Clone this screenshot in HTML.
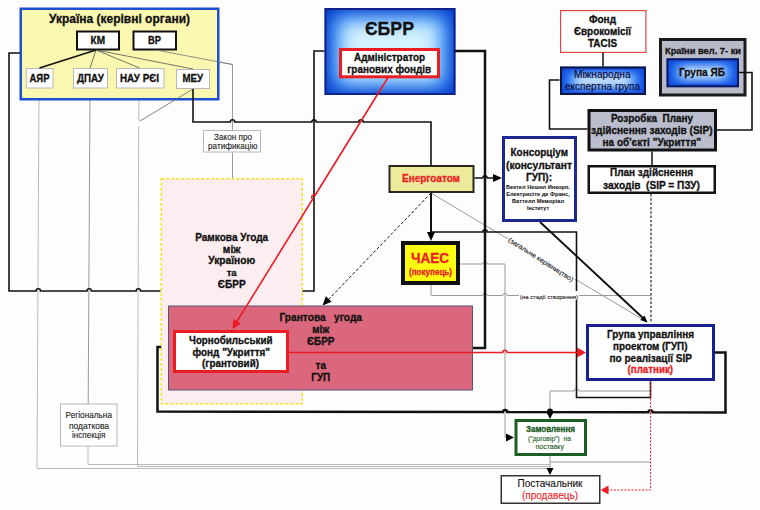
<!DOCTYPE html>
<html><head><meta charset="utf-8"><style>
html,body{margin:0;padding:0;background:#fdfdfd;}
svg{display:block;font-family:"Liberation Sans",sans-serif;}
</style></head><body>
<svg width="760" height="510" viewBox="0 0 760 510">
<rect x="0" y="0" width="760" height="510" fill="#fdfdfd"/>
<polyline points="39,88 37,468.5 550,468.5" fill="none" stroke="#a8a8a8" stroke-width="0.8" />
<polyline points="90,88 88.2,404" fill="none" stroke="#9a9a9a" stroke-width="1" />
<polyline points="88,446 88,464.5 550,464.5" fill="none" stroke="#a8a8a8" stroke-width="0.8" />
<polyline points="139,88 138.75,121" fill="none" stroke="#a8a8a8" stroke-width="0.8" />
<polyline points="138.7,126 137.5,466.5 550,466.5" fill="none" stroke="#a8a8a8" stroke-width="0.8" />
<polyline points="156,50 232.5,64.5 232.5,130" fill="none" stroke="#9a9a9a" stroke-width="1" />
<polyline points="232.5,152.5 232.5,178" fill="none" stroke="#9a9a9a" stroke-width="1" />
<path d="M460,264 L482.80,264.00 A2.2,2.2 0 0 1 487.20,264.00 L505,264 L505,437.5 L508,437.5" fill="none" stroke="#9a9a9a" stroke-width="1" />
<path d="M431,285 L431,295.5 L482.80,295.50 A2.2,2.2 0 0 1 487.20,295.50 L502.80,295.50 A2.2,2.2 0 0 1 507.20,295.50 L650.5,295.5" fill="none" stroke="#9a9a9a" stroke-width="1" />
<polyline points="431,193 647,322" fill="none" stroke="#9a9a9a" stroke-width="1" />
<path d="M550,411 L550,391 L574.30,391.00 A2.2,2.2 0 0 1 578.70,391.00 L650,391" fill="none" stroke="#9a9a9a" stroke-width="1" />
<polyline points="550,456 550,468" fill="none" stroke="#9a9a9a" stroke-width="1" />
<polyline points="550,462 650,462" fill="none" stroke="#9a9a9a" stroke-width="1" />
<polyline points="550,468 550,470" fill="none" stroke="#9a9a9a" stroke-width="1" />
<rect x="20.75" y="8.75" width="197.50" height="90.50" fill="#faf7b0" stroke="#1d4fd0" stroke-width="2.5" />
<rect x="77.00" y="31.50" width="42.00" height="18.00" fill="#fff" stroke="#111" stroke-width="2" />
<rect x="133.50" y="31.50" width="42.50" height="18.00" fill="#fff" stroke="#111" stroke-width="2" />
<rect x="26.25" y="68.50" width="26.75" height="19.50" fill="#fff" stroke="#b8b8b8" stroke-width="1" />
<rect x="73.50" y="68.50" width="34.00" height="19.50" fill="#fff" stroke="#b8b8b8" stroke-width="1" />
<rect x="116.50" y="68.50" width="47.50" height="19.50" fill="#fff" stroke="#b8b8b8" stroke-width="1" />
<rect x="176.50" y="69.50" width="33.00" height="19.00" fill="#fff" stroke="#b8b8b8" stroke-width="1" />
<polyline points="96,50 39.5,68" fill="none" stroke="#111" stroke-width="1.6" />
<polyline points="96,50 90,68" fill="none" stroke="#555" stroke-width="0.8" />
<polyline points="96,50 139.5,68" fill="none" stroke="#555" stroke-width="0.8" />
<polyline points="96,50 193,69" fill="none" stroke="#555" stroke-width="0.8" />
<polyline points="156,50 232.5,64.5" fill="none" stroke="#777" stroke-width="0.8" />
<polyline points="193,89 140,121" fill="none" stroke="#666" stroke-width="0.8" />
<defs>
<radialGradient id="gE" cx="50%" cy="45%" r="72%"><stop offset="0" stop-color="#ffffff"/><stop offset="0.3" stop-color="#b8e4ff"/><stop offset="0.62" stop-color="#2a82f4"/><stop offset="1" stop-color="#0a38c0"/></radialGradient>
<radialGradient id="gM" cx="50%" cy="50%" r="72%"><stop offset="0" stop-color="#eefbff"/><stop offset="0.3" stop-color="#8ccfff"/><stop offset="0.7" stop-color="#1868f4"/><stop offset="1" stop-color="#0838d0"/></radialGradient>
</defs>
<defs><clipPath id="c1"><rect x="324.5" y="8" width="131.0" height="87"/></clipPath><filter id="f1" x="-50%" y="-50%" width="200%" height="200%"><feGaussianBlur stdDeviation="9"/></filter></defs>
<g clip-path="url(#c1)"><rect x="324.5" y="8" width="131.0" height="87" fill="#0636c4"/>
<rect x="329.5" y="13" width="121.0" height="77" fill="#2a86f6" filter="url(#f1)"/>
<rect x="340.5" y="21" width="99.0" height="61" fill="#d4f2ff" filter="url(#f1)"/></g>
<rect x="325.50" y="9.00" width="129.00" height="85.00" fill="none" stroke="#10238a" stroke-width="2" />
<rect x="340.50" y="49.50" width="98.00" height="27.30" fill="#fff" stroke="#ea1c24" stroke-width="3" />
<rect x="560.60" y="10.60" width="85.30" height="41.80" fill="#fff" stroke="#e04848" stroke-width="1.2" />
<polyline points="603,52.5 603,66.5" fill="none" stroke="#111" stroke-width="1.5" />
<defs><clipPath id="c2"><rect x="560" y="66.5" width="86" height="28.5"/></clipPath><filter id="f2" x="-50%" y="-50%" width="200%" height="200%"><feGaussianBlur stdDeviation="5"/></filter></defs>
<g clip-path="url(#c2)"><rect x="560" y="66.5" width="86" height="28.5" fill="#0a40d8"/>
<rect x="564" y="70.5" width="78" height="20.5" fill="#2a7af4" filter="url(#f2)"/>
<rect x="574" y="75.5" width="58" height="10.5" fill="#e8f8ff" filter="url(#f2)"/></g>
<rect x="561.00" y="67.50" width="84.00" height="26.50" fill="none" stroke="#0d1440" stroke-width="2" />
<rect x="660.50" y="39.50" width="84.50" height="55.50" fill="#b9bbc8" stroke="#1a1a1a" stroke-width="3" />
<defs><clipPath id="c3"><rect x="666.5" y="58.3" width="72.5" height="29.0"/></clipPath><filter id="f3" x="-50%" y="-50%" width="200%" height="200%"><feGaussianBlur stdDeviation="5"/></filter></defs>
<g clip-path="url(#c3)"><rect x="666.5" y="58.3" width="72.5" height="29.0" fill="#0a40d8"/>
<rect x="670.5" y="62.3" width="64.5" height="21.0" fill="#2a7af4" filter="url(#f3)"/>
<rect x="680.5" y="67.3" width="44.5" height="11.0" fill="#e8f8ff" filter="url(#f3)"/></g>
<rect x="667.50" y="59.30" width="70.50" height="27.00" fill="none" stroke="#0d1860" stroke-width="2" />
<rect x="589.00" y="110.50" width="126.50" height="39.50" fill="#babdcb" stroke="#111" stroke-width="3" />
<rect x="588.75" y="166.25" width="126.00" height="26.50" fill="#fff" stroke="#111" stroke-width="2.5" />
<rect x="203.50" y="130.50" width="57.00" height="21.50" fill="#fff" stroke="#b8b8b8" stroke-width="1" />
<path d="M20,53 L9,53 L9,291 L36.10,291.00 A2.2,2.2 0 0 1 40.50,291.00 L87.00,291.00 A2.2,2.2 0 0 1 91.40,291.00 L136.20,291.00 A2.2,2.2 0 0 1 140.60,291.00 L160.5,291" fill="none" stroke="#111" stroke-width="1.6" />
<path d="M193,89 L193,122 L230.30,122.00 A2.2,2.2 0 0 1 234.70,122.00 L311.80,122.00 A2.2,2.2 0 0 1 316.20,122.00 L358.80,122.00 A2.2,2.2 0 0 1 363.20,122.00 L431,122 L431,165" fill="none" stroke="#111" stroke-width="1.6" />
<polyline points="324.5,51 314,51 314,291 302,291" fill="none" stroke="#111" stroke-width="1.6" />
<polyline points="454.5,51 485,51 485,348 473,348" fill="none" stroke="#111" stroke-width="2.5" />
<polyline points="559.5,80 549.5,80 549.5,129 587.5,129" fill="none" stroke="#111" stroke-width="1.6" />
<polyline points="738,72.5 752,72.5 752,130 716,130" fill="none" stroke="#111" stroke-width="1.6" />
<polyline points="652,151.5 652,165" fill="none" stroke="#111" stroke-width="1.5" />
<path d="M474.5,178 L482.80,178.00 A2.2,2.2 0 0 1 487.20,178.00 L494,178" fill="none" stroke="#111" stroke-width="1.4" />
<polygon points="502.00,178.00 493.00,182.00 493.00,174.00" fill="#000"/>
<polyline points="431,193 431,232" fill="none" stroke="#111" stroke-width="2" />
<polygon points="431.00,241.00 427.00,232.00 435.00,232.00" fill="#000"/>
<path d="M431,232 L482.80,232.00 A2.2,2.2 0 0 1 487.20,232.00 L576.5,232 L576.5,397.5 L650.5,397.5 L650.5,381" fill="none" stroke="#111" stroke-width="1.6" />
<polyline points="540,222 643,318" fill="none" stroke="#111" stroke-width="1.9" />
<polygon points="647.50,322.50 640.21,320.04 644.59,315.38" fill="#000"/>
<polyline points="431,193 327,301" fill="none" stroke="#111" stroke-width="1" stroke-dasharray="3,2"/>
<polygon points="322.50,305.50 325.87,296.25 331.63,301.80" fill="#000"/>
<polyline points="651,194 651,323" fill="none" stroke="#111" stroke-width="1.1" stroke-dasharray="2.5,1.8"/>
<path d="M715,352.5 L725.5,352.5 L725.5,412.5 L652.70,412.37 A2.2,2.2 0 0 0 648.30,412.36 L507.20,412.12 A2.2,2.2 0 0 0 502.80,412.11 L157.5,411.5 L157.5,347 L173,347" fill="none" stroke="#111" stroke-width="2.5" />
<circle cx="550" cy="411.5" r="3" fill="#111"/>
<polygon points="550.00,419.00 546.50,412.00 553.50,412.00" fill="#000"/>
<rect x="389.50" y="166.00" width="84.00" height="26.00" fill="#eeea9c" stroke="#2a2a20" stroke-width="2" />
<rect x="503.50" y="137.50" width="72.00" height="83.00" fill="#fff" stroke="#1a2890" stroke-width="3" />
<rect x="403.00" y="243.00" width="55.00" height="40.00" fill="#fffc14" stroke="#111" stroke-width="4" />
<rect x="161.25" y="178.75" width="141.00" height="225.00" fill="#fcedf0" stroke="#f2e21a" stroke-width="1.5" stroke-dasharray="3,2"/>
<rect x="168.50" y="306.00" width="304.00" height="84.00" fill="#da677b" stroke="#55557a" stroke-width="1" />
<rect x="174.50" y="331.50" width="113.00" height="40.00" fill="#fff" stroke="#ea1c24" stroke-width="3" />
<rect x="587.50" y="325.50" width="126.00" height="54.00" fill="#fff" stroke="#1a2090" stroke-width="3" />
<rect x="60.50" y="404.00" width="56.50" height="42.00" fill="#fff" stroke="#b8b8b8" stroke-width="1" />
<rect x="516.00" y="420.50" width="69.50" height="34.00" fill="#fff" stroke="#1d5e22" stroke-width="3" />
<rect x="501.25" y="475.75" width="98.50" height="27.50" fill="#fff" stroke="#333" stroke-width="1.5" />
<polygon points="514.00,437.50 506.00,441.50 506.00,433.50" fill="#000"/>
<polygon points="550.00,475.00 546.50,468.00 553.50,468.00" fill="#000"/>
<path d="M388,77.5 L315.08,195.28 A2.2,2.2 0 0 0 312.76,199.02 L236,323" fill="none" stroke="#ec1c24" stroke-width="1.6" />
<polygon points="232.50,329.00 233.41,318.98 241.06,323.71" fill="#ec1c24"/>
<path d="M288,352.5 L502.80,352.50 A2.2,2.2 0 0 1 507.20,352.50 L578,352.5" fill="none" stroke="#ec1c24" stroke-width="1.6" />
<polygon points="586.00,352.50 577.00,357.50 577.00,347.50" fill="#ec1c24"/>
<polyline points="650.5,381 650.5,490 608,490" fill="none" stroke="#ec1c24" stroke-width="1" stroke-dasharray="2,1.5"/>
<polygon points="600.50,490.00 608.50,485.50 608.50,494.50" fill="#ec1c24"/>
<text x="119.5" y="22.5" font-size="12.34" font-weight="bold" fill="#111" stroke="#111" stroke-width="0.3" text-anchor="middle" xml:space="preserve" textLength="141" lengthAdjust="spacingAndGlyphs" >Україна (керівні органи)</text>
<text x="97.75" y="43.75" font-size="10.3" font-weight="bold" fill="#111" stroke="#111" stroke-width="0.3" text-anchor="middle" xml:space="preserve" textLength="14.5" lengthAdjust="spacingAndGlyphs" >КМ</text>
<text x="154.5" y="43.75" font-size="10.3" font-weight="bold" fill="#111" stroke="#111" stroke-width="0.3" text-anchor="middle" xml:space="preserve" textLength="13" lengthAdjust="spacingAndGlyphs" >ВР</text>
<text x="39.5" y="81.75" font-size="10.2" font-weight="bold" fill="#111" stroke="#111" stroke-width="0.3" text-anchor="middle" xml:space="preserve" textLength="20" lengthAdjust="spacingAndGlyphs" >АЯР</text>
<text x="90.5" y="81.75" font-size="10.2" font-weight="bold" fill="#111" stroke="#111" stroke-width="0.3" text-anchor="middle" xml:space="preserve" textLength="27" lengthAdjust="spacingAndGlyphs" >ДПАУ</text>
<text x="139.5" y="81.75" font-size="10.2" font-weight="bold" fill="#111" stroke="#111" stroke-width="0.3" text-anchor="middle" xml:space="preserve" textLength="39" lengthAdjust="spacingAndGlyphs" >НАУ РЄІ</text>
<text x="192.75" y="82" font-size="10.2" font-weight="bold" fill="#111" stroke="#111" stroke-width="0.3" text-anchor="middle" xml:space="preserve" textLength="20.5" lengthAdjust="spacingAndGlyphs" >МЕУ</text>
<text x="389.5" y="35.3" font-size="18.26" font-weight="bold" fill="#111" stroke="#111" stroke-width="0.3" text-anchor="middle" xml:space="preserve" textLength="49" lengthAdjust="spacingAndGlyphs" >ЄБРР</text>
<text x="389.5" y="60.5" font-size="10.2" font-weight="bold" fill="#111" stroke="#111" stroke-width="0.3" text-anchor="middle" xml:space="preserve" textLength="71" lengthAdjust="spacingAndGlyphs" >Адміністратор</text>
<text x="389.2" y="72.6" font-size="10.22" font-weight="bold" fill="#111" stroke="#111" stroke-width="0.3" text-anchor="middle" xml:space="preserve" textLength="84" lengthAdjust="spacingAndGlyphs" >гранових фондів</text>
<text x="602.5" y="22.5" font-size="10.29" font-weight="bold" fill="#111" stroke="#111" stroke-width="0.3" text-anchor="middle" xml:space="preserve" textLength="27" lengthAdjust="spacingAndGlyphs" >Фонд</text>
<text x="602.5" y="34.75" font-size="10.18" font-weight="bold" fill="#111" stroke="#111" stroke-width="0.3" text-anchor="middle" xml:space="preserve" textLength="57" lengthAdjust="spacingAndGlyphs" >Єврокомісії</text>
<text x="602.5" y="46.75" font-size="10.21" font-weight="bold" fill="#111" stroke="#111" stroke-width="0.3" text-anchor="middle" xml:space="preserve" textLength="29" lengthAdjust="spacingAndGlyphs" >TACIS</text>
<text x="602.25" y="77.5" font-size="10.36" font-weight="normal" fill="#0a0a30" stroke="#0a0a30" stroke-width="0.12" text-anchor="middle" xml:space="preserve" textLength="56.5" lengthAdjust="spacingAndGlyphs" >Міжнародна</text>
<text x="602.5" y="89.5" font-size="10.32" font-weight="normal" fill="#0a0a30" stroke="#0a0a30" stroke-width="0.12" text-anchor="middle" xml:space="preserve" textLength="75" lengthAdjust="spacingAndGlyphs" >експертна група</text>
<text x="703" y="54" font-size="9.56" font-weight="bold" fill="#111" stroke="#111" stroke-width="0.3" text-anchor="middle" xml:space="preserve" textLength="76" lengthAdjust="spacingAndGlyphs" >Країни вел. 7- ки</text>
<text x="702" y="76.25" font-size="10.39" font-weight="bold" fill="#111" stroke="#111" stroke-width="0.3" text-anchor="middle" xml:space="preserve" textLength="46" lengthAdjust="spacingAndGlyphs" >Група ЯБ</text>
<text x="652" y="122" font-size="10.23" font-weight="bold" fill="#111" stroke="#111" stroke-width="0.3" text-anchor="middle" xml:space="preserve" textLength="82" lengthAdjust="spacingAndGlyphs" >Розробка  Плану</text>
<text x="651.75" y="133.75" font-size="10.37" font-weight="bold" fill="#111" stroke="#111" stroke-width="0.3" text-anchor="middle" xml:space="preserve" textLength="121.5" lengthAdjust="spacingAndGlyphs" >здійснення заходів (SIP)</text>
<text x="651.75" y="145.5" font-size="10.33" font-weight="bold" fill="#111" stroke="#111" stroke-width="0.3" text-anchor="middle" xml:space="preserve" textLength="98.5" lengthAdjust="spacingAndGlyphs" >на об'єкті "Укриття"</text>
<text x="651.5" y="176.25" font-size="10.27" font-weight="bold" fill="#111" stroke="#111" stroke-width="0.3" text-anchor="middle" xml:space="preserve" textLength="83" lengthAdjust="spacingAndGlyphs" >План здійснення</text>
<text x="651.5" y="188.75" font-size="10.43" font-weight="bold" fill="#111" stroke="#111" stroke-width="0.3" text-anchor="middle" xml:space="preserve" textLength="97" lengthAdjust="spacingAndGlyphs" >заходів  (SIP = ПЗУ)</text>
<text x="233" y="139.7" font-size="9.3" font-weight="normal" fill="#222" stroke="#222" stroke-width="0.12" text-anchor="middle" xml:space="preserve" textLength="38" lengthAdjust="spacingAndGlyphs" >Закон про</text>
<text x="232.75" y="149" font-size="9.3" font-weight="normal" fill="#222" stroke="#222" stroke-width="0.12" text-anchor="middle" xml:space="preserve" textLength="49.5" lengthAdjust="spacingAndGlyphs" >ратификацію</text>
<text x="431" y="182" font-size="10.26" font-weight="bold" fill="#ec1c24" stroke="#ec1c24" stroke-width="0.3" text-anchor="middle" xml:space="preserve" textLength="58" lengthAdjust="spacingAndGlyphs" >Енергоатом</text>
<text x="539.25" y="156.25" font-size="10.25" font-weight="bold" fill="#111" stroke="#111" stroke-width="0.3" text-anchor="middle" xml:space="preserve" textLength="57.5" lengthAdjust="spacingAndGlyphs" >Консорціум</text>
<text x="539" y="168.75" font-size="10.56" font-weight="bold" fill="#111" stroke="#111" stroke-width="0.3" text-anchor="middle" xml:space="preserve" textLength="66" lengthAdjust="spacingAndGlyphs" >(консультант</text>
<text x="539" y="180.5" font-size="10.4" font-weight="bold" fill="#111" stroke="#111" stroke-width="0.3" text-anchor="middle" xml:space="preserve" textLength="26" lengthAdjust="spacingAndGlyphs" >ГУП):</text>
<text x="538" y="188.75" font-size="5.85" font-weight="bold" fill="#111" stroke="#111" stroke-width="0.05" text-anchor="middle" xml:space="preserve" textLength="64" lengthAdjust="spacingAndGlyphs" >Бектел Нешнл Инкорп.</text>
<text x="538" y="195.5" font-size="5.87" font-weight="bold" fill="#111" stroke="#111" stroke-width="0.05" text-anchor="middle" xml:space="preserve" textLength="63.5" lengthAdjust="spacingAndGlyphs" >Електрисіте де Франс,</text>
<text x="538" y="202.5" font-size="5.85" font-weight="bold" fill="#111" stroke="#111" stroke-width="0.05" text-anchor="middle" xml:space="preserve" textLength="52" lengthAdjust="spacingAndGlyphs" >Баттелл Меморіал</text>
<text x="538" y="209.5" font-size="5.51" font-weight="bold" fill="#111" stroke="#111" stroke-width="0.05" text-anchor="middle" xml:space="preserve" textLength="22" lengthAdjust="spacingAndGlyphs" >Інститут</text>
<text x="430" y="262.5" font-size="13.91" font-weight="bold" fill="#ec1c24" stroke="#ec1c24" stroke-width="0.3" text-anchor="middle" xml:space="preserve" textLength="38" lengthAdjust="spacingAndGlyphs" >ЧАЕС</text>
<text x="430.5" y="275" font-size="8.7" font-weight="bold" fill="#ec1c24" stroke="#ec1c24" stroke-width="0.3" text-anchor="middle" xml:space="preserve" textLength="43" lengthAdjust="spacingAndGlyphs" >(покупець)</text>
<text x="231.7" y="241.3" font-size="10.36" font-weight="bold" fill="#111" stroke="#111" stroke-width="0.3" text-anchor="middle" xml:space="preserve" textLength="73" lengthAdjust="spacingAndGlyphs" >Рамкова Угода</text>
<text x="231.7" y="252.7" font-size="10.56" font-weight="bold" fill="#111" stroke="#111" stroke-width="0.3" text-anchor="middle" xml:space="preserve" textLength="17.7" lengthAdjust="spacingAndGlyphs" >між</text>
<text x="231.7" y="264" font-size="10.52" font-weight="bold" fill="#111" stroke="#111" stroke-width="0.3" text-anchor="middle" xml:space="preserve" textLength="47" lengthAdjust="spacingAndGlyphs" >Україною</text>
<text x="231.7" y="276" font-size="9.85" font-weight="bold" fill="#111" stroke="#111" stroke-width="0.3" text-anchor="middle" xml:space="preserve" textLength="10" lengthAdjust="spacingAndGlyphs" >та</text>
<text x="231.7" y="288.3" font-size="10.43" font-weight="bold" fill="#111" stroke="#111" stroke-width="0.3" text-anchor="middle" xml:space="preserve" textLength="28" lengthAdjust="spacingAndGlyphs" >ЄБРР</text>
<text x="320.75" y="321.25" font-size="10.46" font-weight="bold" fill="#111" stroke="#111" stroke-width="0.3" text-anchor="middle" xml:space="preserve" textLength="82.5" lengthAdjust="spacingAndGlyphs" >Грантова   угода</text>
<text x="320.75" y="333" font-size="10.14" font-weight="bold" fill="#111" stroke="#111" stroke-width="0.3" text-anchor="middle" xml:space="preserve" textLength="17" lengthAdjust="spacingAndGlyphs" >між</text>
<text x="320.75" y="344.5" font-size="10.25" font-weight="bold" fill="#111" stroke="#111" stroke-width="0.3" text-anchor="middle" xml:space="preserve" textLength="27.5" lengthAdjust="spacingAndGlyphs" >ЄБРР</text>
<text x="320.75" y="368.75" font-size="10.34" font-weight="bold" fill="#111" stroke="#111" stroke-width="0.3" text-anchor="middle" xml:space="preserve" textLength="10.5" lengthAdjust="spacingAndGlyphs" >та</text>
<text x="320.75" y="380.5" font-size="10.26" font-weight="bold" fill="#111" stroke="#111" stroke-width="0.3" text-anchor="middle" xml:space="preserve" textLength="19" lengthAdjust="spacingAndGlyphs" >ГУП</text>
<text x="230.75" y="343.5" font-size="10.09" font-weight="bold" fill="#111" stroke="#111" stroke-width="0.3" text-anchor="middle" xml:space="preserve" textLength="83.5" lengthAdjust="spacingAndGlyphs" >Чорнобильський</text>
<text x="231.25" y="355.5" font-size="10.22" font-weight="bold" fill="#111" stroke="#111" stroke-width="0.3" text-anchor="middle" xml:space="preserve" textLength="77.5" lengthAdjust="spacingAndGlyphs" >фонд "Укриття"</text>
<text x="230.5" y="367" font-size="10.15" font-weight="bold" fill="#111" stroke="#111" stroke-width="0.3" text-anchor="middle" xml:space="preserve" textLength="57" lengthAdjust="spacingAndGlyphs" >(грантовий)</text>
<text x="650.5" y="338.25" font-size="10.24" font-weight="bold" fill="#111" stroke="#111" stroke-width="0.3" text-anchor="middle" xml:space="preserve" textLength="87" lengthAdjust="spacingAndGlyphs" >Група управління</text>
<text x="650.25" y="349.9" font-size="10.17" font-weight="bold" fill="#111" stroke="#111" stroke-width="0.3" text-anchor="middle" xml:space="preserve" textLength="74.5" lengthAdjust="spacingAndGlyphs" >проектом (ГУП)</text>
<text x="650.75" y="362" font-size="10.32" font-weight="bold" fill="#111" stroke="#111" stroke-width="0.3" text-anchor="middle" xml:space="preserve" textLength="82.5" lengthAdjust="spacingAndGlyphs" >по реалізації SIP</text>
<text x="650.25" y="373.2" font-size="10.03" font-weight="bold" fill="#ec1c24" stroke="#ec1c24" stroke-width="0.3" text-anchor="middle" xml:space="preserve" textLength="45.5" lengthAdjust="spacingAndGlyphs" >(платник)</text>
<text x="88.75" y="418" font-size="9.2" font-weight="normal" fill="#222" stroke="#222" stroke-width="0.12" text-anchor="middle" xml:space="preserve" textLength="46.5" lengthAdjust="spacingAndGlyphs" >Регіональна</text>
<text x="89" y="428.5" font-size="9.2" font-weight="normal" fill="#222" stroke="#222" stroke-width="0.12" text-anchor="middle" xml:space="preserve" textLength="40" lengthAdjust="spacingAndGlyphs" >податкова</text>
<text x="88.75" y="437.7" font-size="9.2" font-weight="normal" fill="#222" stroke="#222" stroke-width="0.12" text-anchor="middle" xml:space="preserve" textLength="33.5" lengthAdjust="spacingAndGlyphs" >інспекція</text>
<text x="550.5" y="431.75" font-size="8.29" font-weight="bold" fill="#1a5a1e" stroke="#1a5a1e" stroke-width="0.3" text-anchor="middle" xml:space="preserve" textLength="49" lengthAdjust="spacingAndGlyphs" >Замовлення</text>
<text x="549.5" y="440.75" font-size="6.93" font-weight="normal" fill="#1a5a1e" stroke="#1a5a1e" stroke-width="0.12" text-anchor="middle" xml:space="preserve" textLength="43" lengthAdjust="spacingAndGlyphs" >("договір")  на</text>
<text x="549.75" y="448.8" font-size="7.19" font-weight="normal" fill="#1a5a1e" stroke="#1a5a1e" stroke-width="0.12" text-anchor="middle" xml:space="preserve" textLength="28.5" lengthAdjust="spacingAndGlyphs" >поставку</text>
<text x="550" y="487" font-size="10.32" font-weight="normal" fill="#111" stroke="#111" stroke-width="0.12" text-anchor="middle" xml:space="preserve" textLength="65" lengthAdjust="spacingAndGlyphs" >Постачальник</text>
<text x="550" y="498.75" font-size="10.29" font-weight="normal" fill="#ec1c24" stroke="#ec1c24" stroke-width="0.12" text-anchor="middle" xml:space="preserve" textLength="56" lengthAdjust="spacingAndGlyphs" >(продавець)</text>
<rect x="519" y="291" width="60" height="9" fill="#fff"/>
<text x="549" y="298.5" font-size="6.15" font-weight="normal" fill="#222" stroke="#222" stroke-width="0.12" text-anchor="middle" xml:space="preserve" textLength="58" lengthAdjust="spacingAndGlyphs" >(на стадії створення)</text>
<g transform="translate(541,259.5) rotate(32.5)"><rect x="-39" y="-3.5" width="78" height="7" fill="#fdfdfd"/></g>
<text x="0" y="2.4" font-size="6.6" font-weight="normal" fill="#222" stroke="#222" stroke-width="0.12" text-anchor="middle" xml:space="preserve" textLength="76" lengthAdjust="spacingAndGlyphs" transform="translate(541,259.5) rotate(32.5)">(загальне керівництво)</text>
</svg></body></html>
